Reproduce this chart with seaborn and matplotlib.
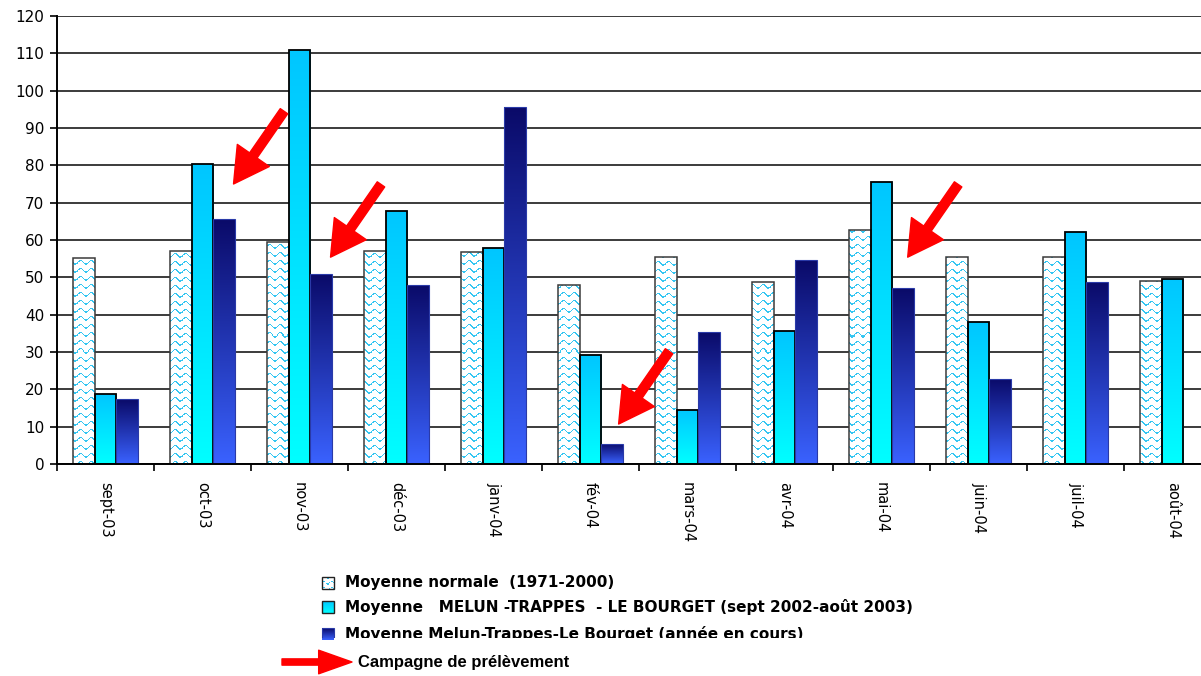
import numpy as np
import pandas as pd
import matplotlib
matplotlib.use("Agg")
import matplotlib.pyplot as plt
import seaborn as sns
from matplotlib.colors import to_rgb
from matplotlib.patches import Rectangle, FancyArrowPatch

# ---- data -------------------------------------------------------------
months = ["sept-03", "oct-03", "nov-03", "déc-03", "janv-04", "fév-04",
          "mars-04", "avr-04", "mai-04", "juin-04", "juil-04", "août-04"]
normale = [55.2, 57.0, 59.5, 57.0, 56.8, 48.0, 55.4, 48.8, 62.7, 55.4, 55.4, 49.0]
melun_2002_2003 = [18.8, 80.4, 111.0, 67.8, 57.8, 29.2, 14.5, 35.6, 75.6, 38.0, 62.1, 49.6]
annee_en_cours = [17.4, 65.7, 50.9, 48.0, 95.6, 5.4, 35.4, 54.6, 47.1, 22.8, 48.8, np.nan]
series_labels = ["Moyenne normale  (1971-2000)",
                 "Moyenne   MELUN -TRAPPES  - LE BOURGET (sept 2002-août 2003)",
                 "Moyenne Melun-Trappes-Le Bourget (année en cours)"]
campaign_label = "Campagne de prélèvement"
y_ticks = list(range(0, 121, 10))

df = pd.DataFrame({
    "mois": months * 3,
    "serie": [s for s in series_labels for _ in months],
    "valeur": normale + melun_2002_2003 + annee_en_cours,
}).dropna()

# ---- figure -----------------------------------------------------------
sns.set_theme(style="white")
plt.rcParams["font.family"] = ["DejaVu Sans"]
W_PX, H_PX = 1201, 676
AX_W, AX_H = 1164, 448
fig = plt.figure(figsize=(W_PX / 100, H_PX / 100), dpi=100, facecolor="white")
ax = fig.add_axes([57 / W_PX, (H_PX - 464) / H_PX, AX_W / W_PX, AX_H / H_PX])
ax.set_facecolor("white")

sns.barplot(data=df, x="mois", y="valeur", hue="serie", order=months,
            hue_order=series_labels, width=0.67, dodge=True, saturation=1,
            palette=["white", "#00DDFF", "#1F2FA5"], legend=False, ax=ax)

ax.set_xlim(-0.5, 11.5)
ax.set_ylim(0, 120)

CYAN_TOP, CYAN_BOTTOM = "#00C6FF", "#00FFFF"
NAVY_TOP, NAVY_BOTTOM = "#0A0A68", "#3A62FF"


def vertical_gradient(top, bottom, n=256):
    t = np.linspace(0, 1, n)[:, None]
    cols = (1 - t) * np.array(to_rgb(bottom)) + t * np.array(to_rgb(top))
    return cols[:, None, :]


def gradient_fill(target_ax, patch, top, bottom, origin="lower"):
    x0, y0 = patch.get_x(), patch.get_y()
    w, h = patch.get_width(), patch.get_height()
    im = target_ax.imshow(vertical_gradient(top, bottom),
                          extent=(x0, x0 + w, y0, y0 + h), origin=origin,
                          aspect="auto", interpolation="bilinear", zorder=1.5)
    im.set_clip_path(patch)


# wavy light-blue texture for the climatological normal bars (one texel per pixel)
gx, gy = np.meshgrid(np.arange(AX_W) + 0.5, np.arange(AX_H) + 0.5)
phase = (gy - 1.8 * np.sin(2 * np.pi * gx / 10.5)) % 8.0
texture = np.ones((AX_H, AX_W, 3), dtype=np.float32)
texture[phase < 1.3] = to_rgb("#35C6F2")

for patch in ax.containers[0]:
    patch.set_facecolor("none")
    patch.set_edgecolor("#3a3a3a")
    patch.set_linewidth(1.1)
    patch.set_zorder(2)
    im = ax.imshow(texture, extent=(-0.5, 11.5, 0, 120), origin="lower",
                   aspect="auto", zorder=1.5, interpolation="nearest")
    im.set_clip_path(patch)

for patch in ax.containers[1]:
    patch.set_facecolor("none")
    patch.set_edgecolor("black")
    patch.set_linewidth(1.3)
    patch.set_zorder(2)
    gradient_fill(ax, patch, CYAN_TOP, CYAN_BOTTOM)

for patch in ax.containers[2]:
    patch.set_facecolor("none")
    patch.set_edgecolor("#2a3aa8")
    patch.set_linewidth(0.8)
    patch.set_zorder(2)
    gradient_fill(ax, patch, NAVY_TOP, NAVY_BOTTOM)

ax.set_xlim(-0.5, 11.5)
ax.set_ylim(0, 120)

# ---- axes styling -----------------------------------------------------
ax.set_axisbelow(True)
ax.yaxis.grid(True, color="#1a1a1a", linewidth=1.2)
ax.xaxis.grid(False)
for side in ["top", "right"]:
    ax.spines[side].set_visible(False)
for side in ["left", "bottom"]:
    ax.spines[side].set_color("black")
    ax.spines[side].set_linewidth(1.4)

ax.set_yticks(y_ticks)
ax.set_yticklabels([str(v) for v in y_ticks], fontsize=11)
ax.tick_params(axis="y", which="major", left=True, length=5, width=1.2,
               color="black", pad=4, labelcolor="black")

ax.set_xticks(range(len(months)))
ax.set_xticklabels(months, rotation=-90, fontsize=10.5, va="top", ha="center")
ax.set_xticks(np.arange(-0.5, 12.0, 1.0), minor=True)
ax.tick_params(axis="x", which="major", bottom=True, length=0, pad=13,
               labelcolor="black")
ax.tick_params(axis="x", which="minor", bottom=True, length=5, width=1.2,
               color="black")
ax.set_xlabel("")
ax.set_ylabel("")

# ---- sampling campaign arrows --------------------------------------------
arrow_tips = [(1.32, 75.0), (2.32, 55.4), (5.29, 10.7), (8.27, 55.4)]
arrow_style = "simple,head_length=2.5,head_width=2.8,tail_width=0.65"
for tx, ty in arrow_tips:
    ax.annotate("", xy=(tx, ty), xytext=(tx + 0.52, ty + 19.5),
                arrowprops=dict(arrowstyle=arrow_style, mutation_scale=10,
                                color="#FF0000", shrinkA=0, shrinkB=0),
                zorder=5, annotation_clip=False)

# ---- legend box (bottom line partly hidden by the box edge) -------------
lx0, lx1, ly0, ly1 = 255, 990, 567, 638
lax = fig.add_axes([lx0 / W_PX, (H_PX - ly1) / H_PX,
                    (lx1 - lx0) / W_PX, (ly1 - ly0) / H_PX])
lax.set_axis_off()

rows_y = [583, 607, 634]
sw = 12
swatches = []
for y, ec, lw in zip(rows_y, ["#222222", "#222222", "#2a3aa8"], [1.0, 1.0, 0.8]):
    r = Rectangle((322, y - sw / 2), sw, sw, facecolor="none",
                  edgecolor=ec, linewidth=lw, zorder=2)
    lax.add_patch(r)
    swatches.append(r)

lim = lax.imshow(texture[:sw + 4, :sw + 4], origin="lower",
                 extent=(322, 322 + sw, rows_y[0] + sw / 2, rows_y[0] - sw / 2),
                 aspect="auto", zorder=1.5, interpolation="nearest")
lim.set_clip_path(swatches[0])
gradient_fill(lax, swatches[1], CYAN_TOP, CYAN_BOTTOM, origin="upper")
gradient_fill(lax, swatches[2], NAVY_TOP, NAVY_BOTTOM, origin="upper")

for y, label in zip(rows_y, series_labels):
    lax.text(345, y, label, fontsize=11, fontweight="bold", color="black",
             va="center", ha="left", clip_on=True)

lax.set_xlim(lx0, lx1)
lax.set_ylim(ly1, ly0)

# campaign arrow key
fig.patches.append(FancyArrowPatch(
    (282 / W_PX, (H_PX - 662) / H_PX), (352 / W_PX, (H_PX - 662) / H_PX),
    transform=fig.transFigure,
    arrowstyle="simple,head_length=2.4,head_width=1.7,tail_width=0.45",
    mutation_scale=10, color="#FF0000", shrinkA=0, shrinkB=0))
fig.text(358 / W_PX, (H_PX - 662) / H_PX, campaign_label,
         fontsize=12, fontweight="bold", family=["Liberation Sans", "DejaVu Sans"],
         va="center", ha="left", color="black")

fig.savefig("out.png", dpi=100, facecolor="white")
